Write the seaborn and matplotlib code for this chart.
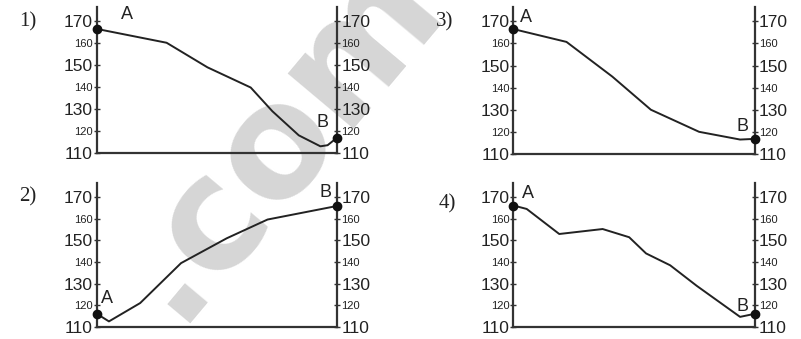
import matplotlib
matplotlib.use("Agg")
import matplotlib.pyplot as plt
import seaborn as sns
import pandas as pd

# distance along the route (arbitrary units, 0 = A, 10 = B) and height
p1_x = [0, 2.9, 4.6, 6.4, 7.3, 8.4, 9.3, 9.6, 10]
p1_y = [166.5, 160.2, 149, 139.8, 129, 118, 113, 113.5, 117]

p2_x = [0, 0.5, 1.8, 3.5, 5.4, 7.1, 10]
p2_y = [116, 112.5, 121, 139.5, 151, 159.7, 166]

p3_x = [0, 2.2, 4.1, 5.7, 7.7, 9.4, 10]
p3_y = [166.5, 160.7, 145, 130, 120, 116.5, 116.8]

p4_x = [0, 0.55, 1.9, 3.7, 4.8, 5.5, 6.5, 7.6, 9.4, 10]
p4_y = [166.2, 164.6, 153, 155.3, 151.5, 144, 138.5, 129, 114.6, 116]

y_ticks = [110, 120, 130, 140, 150, 160, 170]
big_ticks = [110, 130, 150, 170]
panel_names = ["1)", "2)", "3)", "4)"]

sns.set_style("white")
tick_font = ["Liberation Sans Narrow", "Liberation Sans", "DejaVu Sans"]
plt.rcParams['font.family'] = ["Liberation Sans", "DejaVu Sans"]

fig = plt.figure(figsize=(8.01, 3.39), dpi=100)

# watermark behind everything
fig.text(0.345, 0.60, ".com", rotation=50, fontsize=112, color="#d6d6d6",
         fontweight="bold", ha="center", va="center", family="DejaVu Sans",
         zorder=-5)

# axes boxes in figure fraction: left, bottom, width, height
boxes = [
    [0.121, 0.549, 0.300, 0.431],
    [0.121, 0.036, 0.300, 0.424],
    [0.641, 0.546, 0.301, 0.434],
    [0.641, 0.036, 0.301, 0.424],
]
# where the A / B letters sit (data coords)
a_pos = [(1.25, 173), (0.42, 123.2), (0.5, 171.7), (0.6, 171.6)]
b_pos = [(9.4, 123.7), (9.5, 172), (9.5, 122.6), (9.5, 119.5)]
name_pos = [(0.035, 0.935), (0.035, 0.42), (0.555, 0.935), (0.558, 0.40)]

series = [(p1_x, p1_y), (p2_x, p2_y), (p3_x, p3_y), (p4_x, p4_y)]

for i, (xs, ys) in enumerate(series):
    ax = fig.add_axes(boxes[i])
    ax.patch.set_alpha(0)
    df = pd.DataFrame({"x": xs, "y": ys})
    sns.lineplot(data=df, x="x", y="y", ax=ax, color="#222222", linewidth=1.4,
                 sort=False)
    # end points A and B
    ax.plot([xs[0], xs[-1]], [ys[0], ys[-1]], "o", color="#111111",
            markersize=6, clip_on=False, zorder=5)

    ax.set_xlim(0, 10)
    ax.set_ylim(110, 176.6)
    ax.set_xlabel("")
    ax.set_ylabel("")
    ax.set_xticks([])
    ax.set_yticks(y_ticks)

    for side in ["left", "right", "bottom"]:
        ax.spines[side].set_visible(True)
        ax.spines[side].set_color("#333333")
        ax.spines[side].set_linewidth(1.6)
    ax.spines["top"].set_visible(False)

    ax.tick_params(axis="y", left=True, right=True, labelleft=True,
                   labelright=True, direction="inout", length=4, width=1,
                   color="#333333", pad=1)
    for t, v in zip(ax.yaxis.get_major_ticks(), y_ticks):
        size = 12.5 if v in big_ticks else 8
        for lab in (t.label1, t.label2):
            lab.set_fontsize(size)
            lab.set_family(tick_font)
            lab.set_color("#222222")

    ax.text(a_pos[i][0], a_pos[i][1], "A", fontsize=13, ha="center",
            va="center", color="#222222", clip_on=False)
    ax.text(b_pos[i][0], b_pos[i][1], "B", fontsize=13, ha="center",
            va="center", color="#222222", clip_on=False)

    fig.text(name_pos[i][0], name_pos[i][1], panel_names[i], fontsize=15,
             family=["Liberation Serif", "DejaVu Serif"], ha="center",
             va="center", color="#222222")

fig.savefig("out.png", dpi=100)
